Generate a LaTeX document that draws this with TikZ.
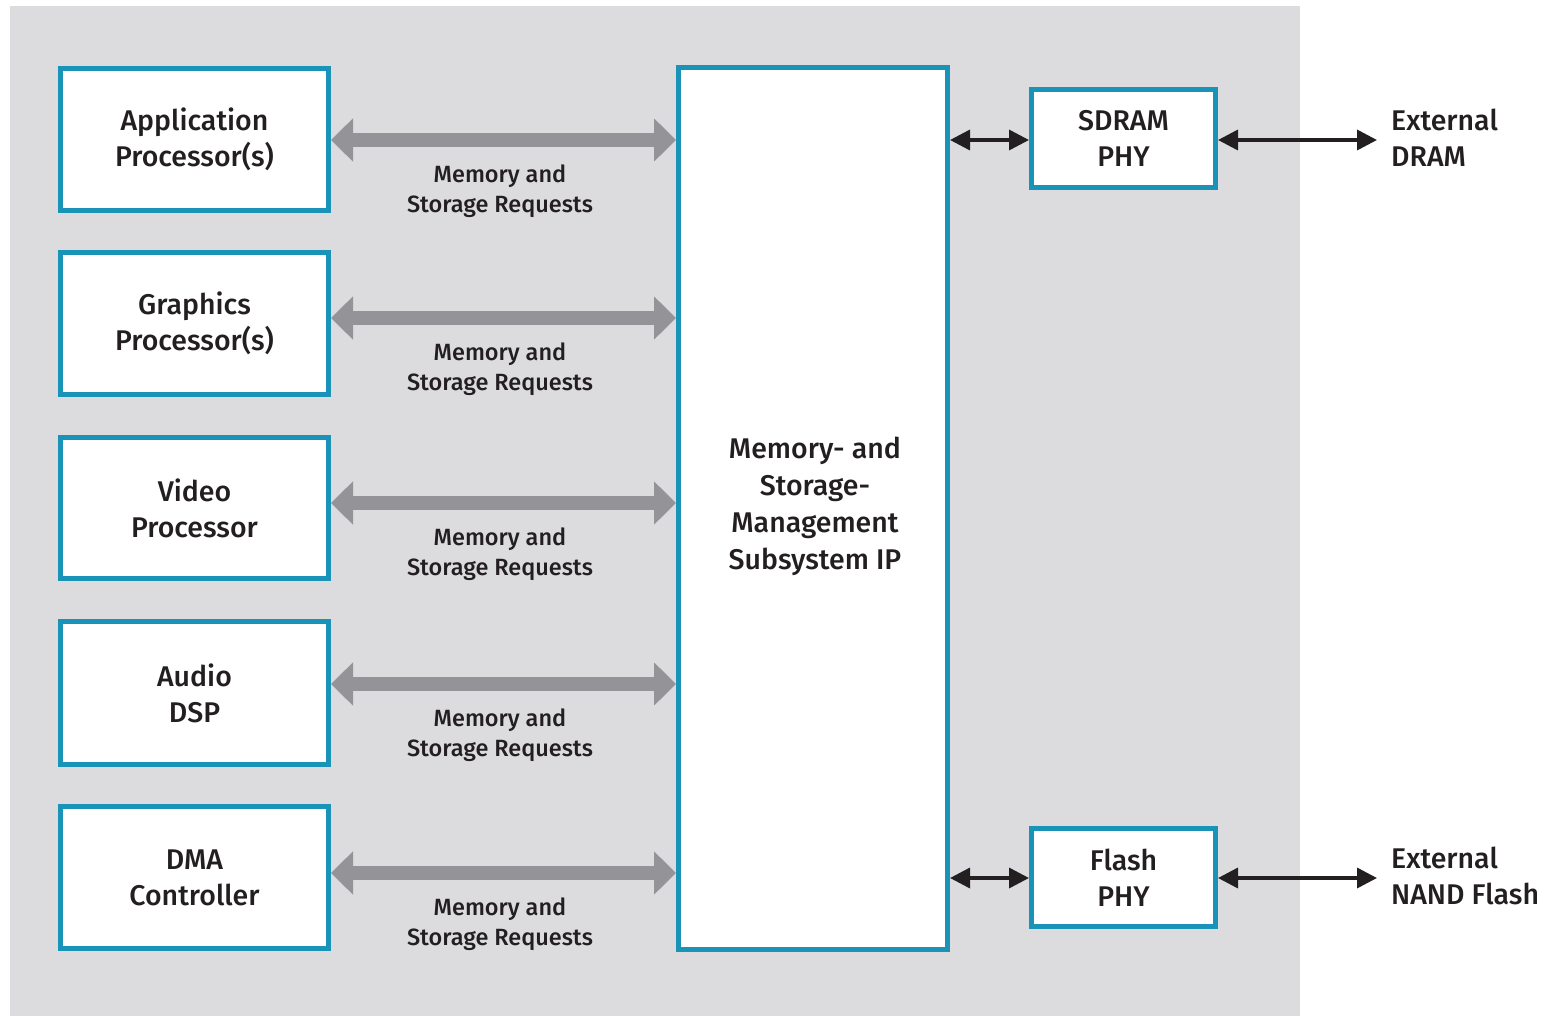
\documentclass[tikz,border=0pt]{standalone}
\usepackage{fontspec}
\setmainfont{Fira Sans Medium}
\usetikzlibrary{arrows.meta}
\definecolor{panel}{HTML}{DCDCDE}
\definecolor{frame}{HTML}{1A93B8}
\definecolor{ink}{HTML}{231F20}
\definecolor{bus}{HTML}{939398}
\begin{document}
\begin{tikzpicture}[x=1pt,y=-1pt,
  block/.style={draw=frame, line width=5pt, fill=white, text=ink, align=center,
    inner sep=0pt, font=\fontsize{28.5}{36}\selectfont},
  buslabel/.style={text=ink, align=center, font=\fontsize{23.5}{30}\selectfont, inner sep=0pt},
  extlabel/.style={text=ink, align=left, font=\fontsize{28.5}{36}\selectfont, inner sep=0pt, anchor=west},
  busarrow/.style={draw=bus, line width=14pt,
    {Triangle[length=22pt,width=42pt]}-{Triangle[length=22pt,width=42pt]}},
  linkarrow/.style={draw=ink, line width=3.5pt,
    {Triangle[length=20pt,width=20pt]}-{Triangle[length=20pt,width=20pt]}}
]
\useasboundingbox (0,0) rectangle (1550,1016);
% grey chip outline
\fill[panel] (10,6) rectangle (1300,1016);

% requesting clients
\node[block, minimum width=268pt, minimum height=142pt] (app) at (194.5,139.5) {Application\\Processor(s)};
\node[block, minimum width=268pt, minimum height=142pt] (gpu) at (194.5,323.5) {Graphics\\Processor(s)};
\node[block, minimum width=268pt, minimum height=141pt] (vid) at (194.5,508) {Video\\Processor};
\node[block, minimum width=268pt, minimum height=143pt] (dsp) at (194.5,693) {Audio\\DSP};
\node[block, minimum width=268pt, minimum height=142pt] (dma) at (194.5,877.5) {DMA\\Controller};

% memory subsystem
\node[block, minimum width=269pt, minimum height=882pt] (mss) at (813,508.5) {};
\node[text=ink, align=center, font=\fontsize{28.5}{37}\selectfont] (msstext) at (815,506.5)
  {Memory- and\\Storage-\\Management\\Subsystem IP};

% PHYs
\node[block, minimum width=184pt, minimum height=98pt] (sdram) at (1123.5,138.5) {SDRAM\\PHY};
\node[block, minimum width=184pt, minimum height=98pt] (flash) at (1123.5,877.5) {Flash\\PHY};

% external devices
\node[extlabel] (dram) at (1391,137.5) {External\\DRAM};
\node[extlabel] (nand) at (1391,876) {External\\NAND Flash};

% request buses
\foreach \src/\yy in {app/140, gpu/318, vid/503, dsp/684, dma/873}{
  \draw[busarrow] (\src.east |- 0,\yy) -- (mss.west |- 0,\yy);
  \node[buslabel] (lbl-\src) at (500,\yy+51) {Memory and\\Storage Requests};
}

% PHY links
\draw[linkarrow] (mss.east |- 0,140) -- (sdram.west |- 0,140);
\draw[linkarrow] (sdram.east |- 0,140) -- ([xshift=-14pt]dram.west |- 0,140);
\draw[linkarrow] (mss.east |- 0,878) -- (flash.west |- 0,878);
\draw[linkarrow] (flash.east |- 0,878) -- ([xshift=-14pt]nand.west |- 0,878);
\end{tikzpicture}
\end{document}
